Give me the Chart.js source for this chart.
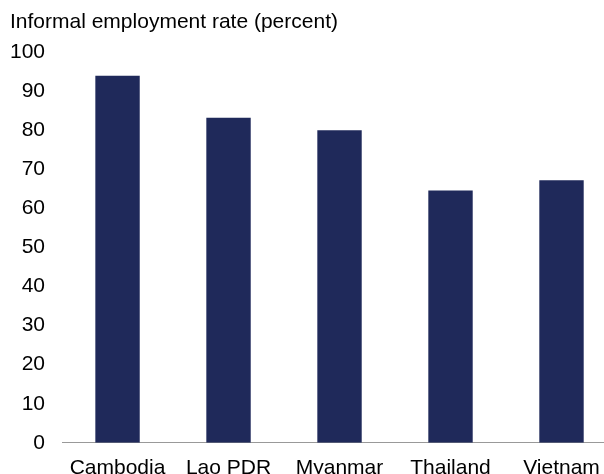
<!DOCTYPE html>
<html><head><meta charset="utf-8">
<script src="https://cdn.jsdelivr.net/npm/chart.js@4/dist/chart.umd.min.js"></script>
<style>html,body{margin:0;padding:0;overflow:hidden;background:#fff}#wrap{width:620px;height:498px}</style>
</head><body>
<div id="wrap"><canvas id="c" width="620" height="498"></canvas></div>
<script>
const categories = ["Cambodia", "Lao PDR", "Myanmar", "Thailand", "Vietnam"];
const informalRate = [94, 83.2, 80, 64.6, 67.2];
const yTicks = [0, 10, 20, 30, 40, 50, 60, 70, 80, 90, 100];
const titleText = "Informal employment rate (percent)";

const font = {family: "'Liberation Sans', Arial, sans-serif", size: 21};
const yPad = 17;
new Chart(document.getElementById('c'), {
  type: 'bar',
  data: {labels: categories, datasets: [{data: informalRate, backgroundColor: '#1f295a', borderWidth: 0,
    barPercentage: 0.4, categoryPercentage: 1}]},
  options: {
    responsive: false, animation: false,
    layout: {padding: {left: 10, right: 3, top: 10, bottom: 4}},
    plugins: {legend: {display: false}, tooltip: {enabled: false},
      title: {display: true, text: titleText, align: 'start', color: '#000', font: {...font, weight: 'normal'}, padding: {top: 0, bottom: 17}}},
    scales: {
      x: {grid: {display: false, drawTicks: false, tickLength: 0}, border: {display: true, color: '#999', width: 1},
        ticks: {color: '#000', font: font, padding: 13, maxRotation: 0},
        afterFit: s => { s.paddingLeft = 0; s.paddingRight = 0; }},
      y: {min: 0, max: 100, grid: {display: false, drawTicks: false, tickLength: 0}, border: {display: false},
        afterBuildTicks: s => { s.ticks = yTicks.map(v => ({value: v})); },
        afterFit: s => { s.width = s.width - yPad; },
        ticks: {color: '#000', font: font, padding: yPad}}
    }
  }
});
</script>
</body></html>
